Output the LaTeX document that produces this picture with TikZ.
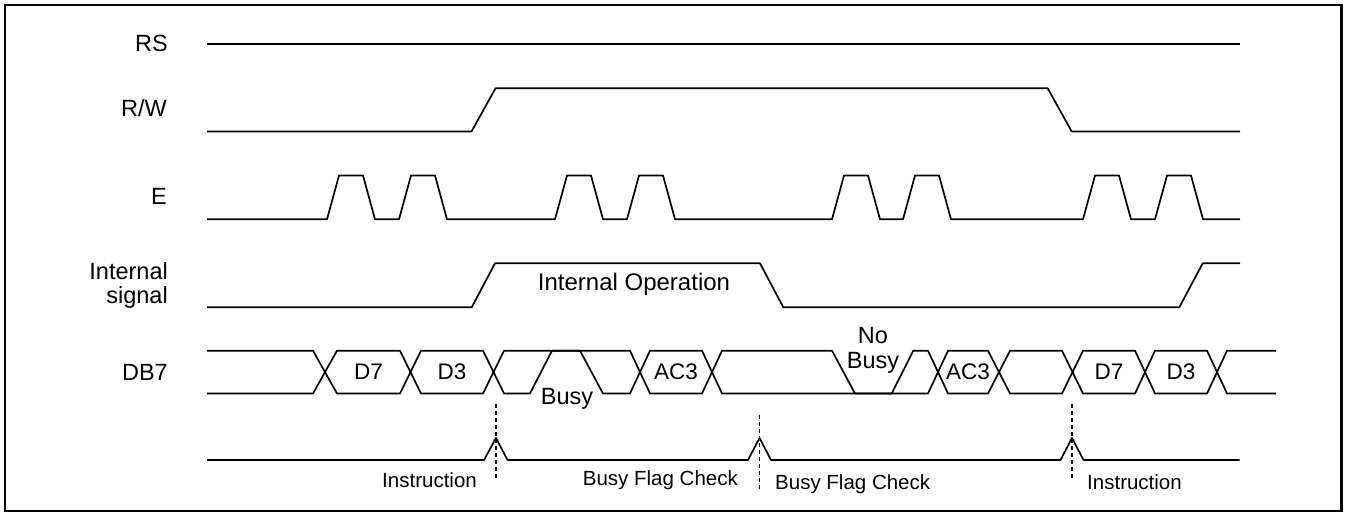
\documentclass[tikz,border=0pt]{standalone}
\usepackage{fontspec}
\setmainfont{Liberation Sans}
\begin{document}
\begin{tikzpicture}[x=1pt,y=-1pt,
  sig/.style={line width=1.7pt, line join=round},
  frame/.style={line width=2.6pt},
  dashline/.style={line width=1.6pt, dash pattern=on 4pt off 3pt},
  lbl/.style={font=\fontsize{23.5}{23.3}\selectfont, inner sep=0pt},
  inlbl/.style={font=\fontsize{22.5}{24}\selectfont, inner sep=0pt},
  oplbl/.style={font=\fontsize{24}{26}\selectfont, inner sep=0pt},
  smlbl/.style={font=\fontsize{20.5}{22}\selectfont, inner sep=0pt}]
\useasboundingbox (0,0) rectangle (1346,516);
\draw[frame] (5,5) rectangle (1341.5,511);

% signal names
\node[lbl, anchor=base east] (nrs) at (168,51.7) {RS};
\node[lbl, anchor=base east] (nrw) at (167,117) {R/W};
\node[lbl, anchor=base east] (ne) at (167,204) {E};
\node[lbl, anchor=east, align=right] (nint) at (168,285.5) {Internal\\signal};
\node[lbl, anchor=base east] (ndb) at (168,380) {DB7};

% RS
\draw[sig] (207,44) -- (1240,44);
% R/W
\draw[sig] (207,131.5) -- (471.5,131.5) -- (495.5,88.3) -- (1047.7,88.3) -- (1071.7,131.5) -- (1240,131.5);
% E
\draw[sig] (207,219.3) -- (327,219.3) -- (339,175.5) -- (363,175.5) -- (375,219.3)
  -- (399,219.3) -- (411,175.5) -- (435,175.5) -- (447,219.3)
  -- (555,219.3) -- (567,175.5) -- (591,175.5) -- (603,219.3)
  -- (627,219.3) -- (639,175.5) -- (663,175.5) -- (675,219.3)
  -- (832,219.3) -- (844,175.5) -- (868,175.5) -- (880,219.3)
  -- (903,219.3) -- (915,175.5) -- (939,175.5) -- (951,219.3)
  -- (1083,219.3) -- (1095,175.5) -- (1119,175.5) -- (1131,219.3)
  -- (1155,219.3) -- (1167,175.5) -- (1191,175.5) -- (1203,219.3)
  -- (1240,219.3);
% Internal signal
\draw[sig] (207,307.3) -- (471.7,307.3) -- (495,263.3) -- (760,263.3) -- (783.3,307.3)
  -- (1179.3,307.3) -- (1202.7,263.3) -- (1240,263.3);
\node[oplbl, anchor=base] (nop) at (634,290.7) {Internal Operation};

% DB7
\def\Ty{350.7}
\def\By{393.5}
\draw[sig] (207,\Ty) -- (313,\Ty) -- (337,\By) -- (400,\By) -- (421,\Ty) -- (483,\Ty)
  -- (504,\By) -- (530,\By) -- (552,\Ty) -- (580,\Ty) -- (603,\By) -- (630,\By)
  -- (650,\Ty) -- (702,\Ty) -- (722,\By) -- (928,\By) -- (948,\Ty) -- (988,\Ty)
  -- (1010,\By) -- (1062,\By) -- (1083,\Ty) -- (1135,\Ty) -- (1155,\By) -- (1207,\By)
  -- (1227,\Ty) -- (1276,\Ty);
\draw[sig] (207,\By) -- (313,\By) -- (337,\Ty) -- (400,\Ty) -- (421,\By) -- (483,\By)
  -- (504,\Ty) -- (630,\Ty) -- (650,\By) -- (702,\By) -- (722,\Ty) -- (832,\Ty)
  -- (855,\By) -- (891.7,\By) -- (913.3,\Ty) -- (928,\Ty) -- (948,\By) -- (988,\By)
  -- (1010,\Ty) -- (1062,\Ty) -- (1083,\By) -- (1135,\By) -- (1155,\Ty) -- (1207,\Ty)
  -- (1227,\By) -- (1276,\By);
\node[inlbl] (d7a) at (368.5,372) {D7};
\node[inlbl] (d3a) at (452,372) {D3};
\node[inlbl] (ac3a) at (676,372) {AC3};
\node[inlbl] (ac3b) at (968,372) {AC3};
\node[inlbl] (d7b) at (1109,372) {D7};
\node[inlbl] (d3b) at (1181,372) {D3};
\node[lbl, anchor=base] (nbusy) at (567,404) {Busy};
\node[lbl, align=center, font=\fontsize{23.5}{25}\selectfont] (nnobusy) at (873,350.5) {No\\Busy};

% bottom timing line
\draw[sig] (207,460) -- (484,460) -- (496,438) -- (507.5,460) -- (748,460) -- (759.5,438)
  -- (771,460) -- (1060.5,460) -- (1072,438) -- (1083.5,460) -- (1239.5,460);
\draw[dashline] (496,404) -- (496,479);
\draw[dashline] (759.5,415) -- (759.5,490);
\draw[dashline] (1072,404) -- (1072,479);
\node[smlbl, anchor=base east] (ins1) at (477,487) {Instruction};
\node[smlbl, anchor=base west] (bfc1) at (582.7,485) {Busy Flag Check};
\node[smlbl, anchor=base west] (bfc2) at (775,489) {Busy Flag Check};
\node[smlbl, anchor=base west] (ins2) at (1087,489) {Instruction};
\end{tikzpicture}
\end{document}
